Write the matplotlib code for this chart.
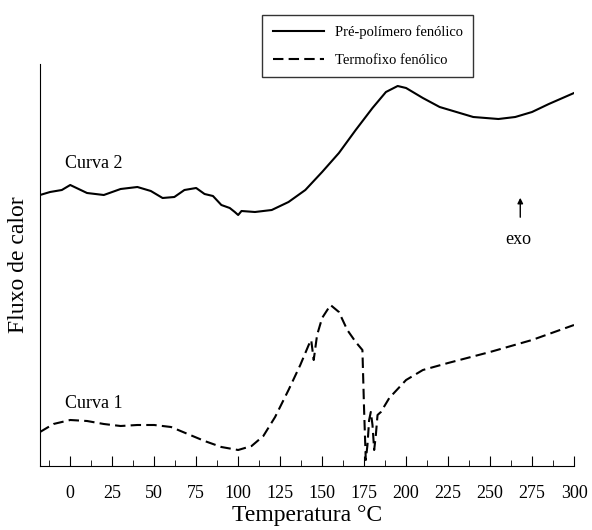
import matplotlib.pyplot as plt
from matplotlib.ticker import MultipleLocator

plt.rcParams['font.family'] = ['Liberation Serif', 'DejaVu Serif']

# curve 2: pré-polímero (arbitrary heat-flow units)
t2 = [-18, -12, -5, 0, 5, 10, 20, 30, 40, 48, 55, 62, 68, 75, 80, 85, 90, 95, 98, 100, 102,
      110, 120, 130, 140, 150, 160, 170, 180, 188, 195, 200, 210, 220, 230, 240, 255, 265, 275, 285, 300]
q2 = [335, 338, 340, 345, 341, 337, 335, 341, 343, 339, 332, 333, 340, 342, 336, 334, 325, 322, 318, 315, 319,
      318, 320, 328, 340, 358, 377, 400, 422, 438, 444, 442, 432, 423, 418, 413, 411, 413, 418, 426, 437]
# curve 1: termofixo
t1 = [-18, -10, 0, 10, 20, 30, 40, 50, 60, 70, 80, 90, 100, 108, 115, 122, 130, 137, 142, 143.5, 145, 147, 150,
      155, 160, 165, 170, 174, 175, 176, 177, 178, 179, 180, 181, 182, 183, 185, 190, 200, 210, 225, 250, 275, 300]
q1 = [98, 106, 110, 109, 106, 104, 105, 105, 103, 96, 89, 83, 80, 84, 94, 113, 140, 165, 185, 190, 170, 195, 212,
      225, 218, 200, 188, 180, 120, 70, 85, 110, 118, 105, 80, 95, 115, 118, 132, 150, 160, 167, 178, 190, 205]

fig = plt.figure(figsize=(5.92, 5.30), dpi=100)
ax = fig.add_axes([40/592, 64/530, 534/592, 402/530])
ax.plot(t2, q2, color='black', lw=1.5, label='Pré-polímero fenólico')
ax.plot(t1, q1, color='black', lw=1.5, ls=(0, (5, 2.5)), label='Termofixo fenólico')
ax.set_xlim(-18, 300)
ax.set_ylim(64, 466)
ax.spines['top'].set_visible(False)
ax.spines['right'].set_visible(False)
ax.set_yticks([])
ax.set_xticks(range(0, 301, 25))
ax.xaxis.set_minor_locator(MultipleLocator(12.5))
ax.tick_params(axis='x', direction='in', length=7, labelsize=13, pad=14)
ax.tick_params(axis='x', which='minor', direction='in', length=4)
ax.set_xlabel('Temperatura °C', fontsize=17, labelpad=2)
ax.set_ylabel('Fluxo de calor', fontsize=17, labelpad=8)

ax.text(-3, 362, 'Curva 2', fontsize=13)
ax.text(-3, 122, 'Curva 1', fontsize=13)
ax.text(259, 286, 'exo', fontsize=13)
ax.annotate('', xy=(268, 335), xytext=(268, 310),
            arrowprops=dict(arrowstyle='-|>', color='black', lw=1, mutation_scale=8))

fig.legend(loc='upper left', bbox_to_anchor=(255/592, 1 - 8/530), fontsize=10.5,
           frameon=True, fancybox=False, edgecolor='black', handlelength=3.5, borderpad=0.7, labelspacing=1.0)
fig.savefig('out.png')
